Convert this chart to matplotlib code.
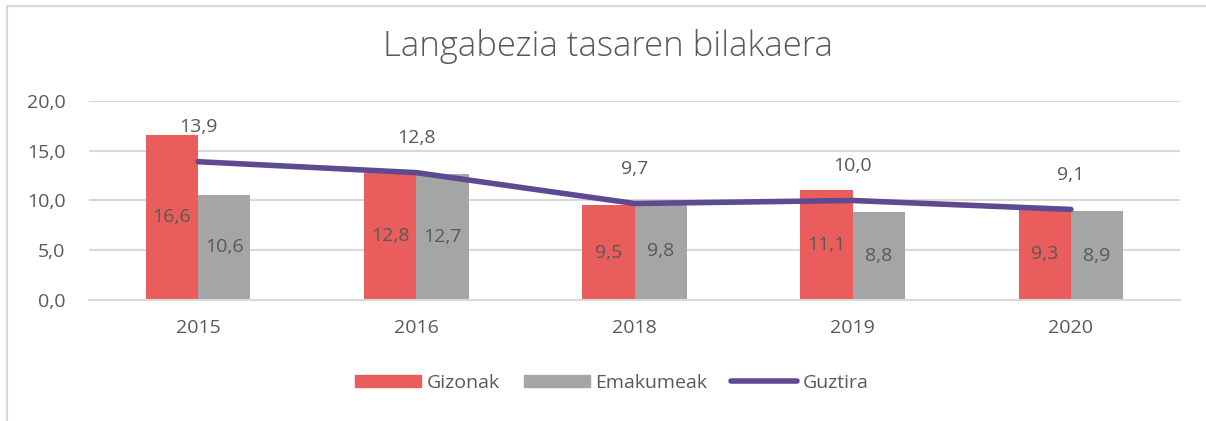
import matplotlib
matplotlib.use("Agg")
import matplotlib.pyplot as plt
from matplotlib.patches import Rectangle
from matplotlib.lines import Line2D
from matplotlib.patches import Patch
import numpy as np

years = ["2015", "2016", "2018", "2019", "2020"]
gizonak = [16.6, 12.8, 9.5, 11.1, 9.3]
emakumeak = [10.6, 12.7, 9.8, 8.8, 8.9]
guztira = [13.9, 12.8, 9.7, 10.0, 9.1]

RED = "#E95D5C"
GRAY = "#A5A5A5"
PURPLE = "#5E4A91"
TEXT = "#595959"
GRID = "#D9D9D9"

plt.rcParams["font.family"] = ["Open Sans", "DejaVu Sans"]

W, H = 1206, 421
fig = plt.figure(figsize=(W / 100, H / 100), dpi=100)

# outer chart border
fig.patches.append(Rectangle((7 / W, -0.1), 1.2, (H - 6) / H + 0.1,
                             transform=fig.transFigure, fill=False,
                             edgecolor=GRID, linewidth=1.5))

ax = fig.add_axes([89 / W, (H - 300) / H, (1180 - 89) / W, 199 / H])
x = np.arange(len(years))
bw = 0.24

ax.bar(x - bw / 2, gizonak, bw, color=RED, zorder=2)
ax.bar(x + bw / 2, emakumeak, bw, color=GRAY, zorder=2)
ax.plot(x, guztira, color=PURPLE, linewidth=4, solid_capstyle="round", zorder=3)


def fmt(v):
    return f"{v:.1f}".replace(".", ",")


for i in range(len(years)):
    ax.text(x[i] - bw / 2, gizonak[i] / 2, fmt(gizonak[i]),
            ha="center", va="center", fontsize=14, color=TEXT, zorder=4)
    ax.text(x[i] + bw / 2, emakumeak[i] / 2, fmt(emakumeak[i]),
            ha="center", va="center", fontsize=14, color=TEXT, zorder=4)
    ax.annotate(fmt(guztira[i]), (x[i], guztira[i]),
                xytext=(0, 25), textcoords="offset points",
                ha="center", va="center", fontsize=14, color=TEXT, zorder=4)

ax.set_xlim(-0.5, 4.5)
ax.set_ylim(0, 20)
ax.set_yticks([0, 5, 10, 15, 20])
ax.set_yticklabels([fmt(v) for v in [0, 5, 10, 15, 20]])
ax.set_xticks(x)
ax.set_xticklabels(years)
ax.tick_params(length=0, labelsize=14, labelcolor=TEXT)
ax.tick_params(axis="y", pad=17)
ax.tick_params(axis="x", pad=14)
ax.grid(axis="y", color=GRID, linewidth=1.5, zorder=0)
for side in ["top", "left", "right"]:
    ax.spines[side].set_visible(False)
ax.spines["bottom"].set_color(GRID)
ax.spines["bottom"].set_linewidth(1.5)

fig.text(608 / W, 1 - 47 / H, "Langabezia tasaren bilakaera",
         ha="center", va="center", fontsize=25, color=TEXT, fontweight="light")

handles = [Patch(color=RED), Patch(color=GRAY),
           Line2D([], [], color=PURPLE, linewidth=4, solid_capstyle="round")]
fig.legend(handles, ["Gizonak", "Emakumeak", "Guztira"], loc="center",
           bbox_to_anchor=(612 / W, 1 - 383 / H), ncol=3, frameon=False,
           fontsize=14, labelcolor=TEXT, handlelength=3.4, handleheight=0.6,
           handletextpad=0.3, columnspacing=1.2)

fig.savefig("out.png", dpi=100)
